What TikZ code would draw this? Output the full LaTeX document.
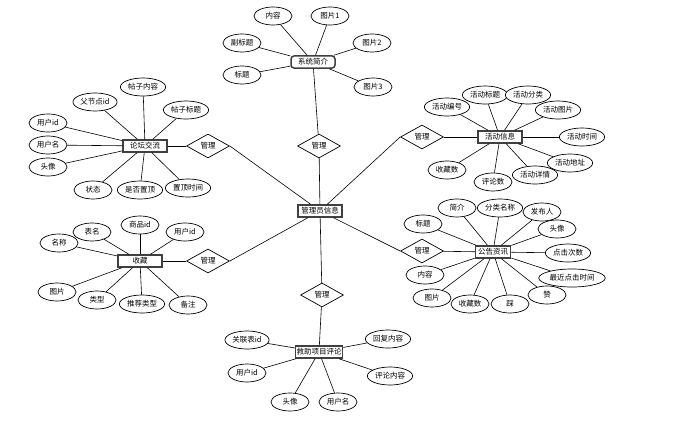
\documentclass[tikz,border=0pt]{standalone}
\usepackage{fontspec}
\setmainfont{Noto Sans CJK SC}
\usetikzlibrary{shapes.geometric}
\begin{document}
\begin{tikzpicture}[x=1pt,y=-1pt,
  attr/.style={ellipse,draw,line width=0.7pt,minimum width=38pt,minimum height=18pt,inner sep=1pt,fill=white,font=\fontsize{7.5}{8}\selectfont},
  ent/.style={rectangle,draw=black!75,line width=1.5pt,minimum width=44pt,minimum height=12pt,inner sep=1.5pt,fill=white,font=\fontsize{7.5}{8}\selectfont},
  rel/.style={diamond,draw,line width=0.7pt,minimum width=43pt,minimum height=24pt,inner sep=0pt,fill=white,font=\fontsize{7.5}{8}\selectfont},
  link/.style={line width=0.6pt}]
\useasboundingbox (0,0) rectangle (690,436);
\fill[white] (0,0) rectangle (690,436);

% entities
\node[ent,rounded corners=3pt] (xt) at (313,62) {系统简介};
\node[ent] (gly) at (320,211) {管理员信息};
\node[ent] (lt) at (145,146) {论坛交流};
\node[ent] (hd) at (500,137) {活动信息};
\node[ent] (sc) at (140,261) {收藏};
\node[ent,minimum width=35pt] (gg) at (493,252) {公告资讯};
\node[ent,inner xsep=1pt] (pl) at (319,352) {救助项目评论};

% relationships
\node[rel] (r1) at (319,146) {管理};
\node[rel] (r2) at (208,146) {管理};
\node[rel] (r3) at (422,137) {管理};
\node[rel] (r4) at (208,261) {管理};
\node[rel] (r5) at (422,251) {管理};
\node[rel] (r6) at (322,295) {管理};

% 系统简介 attributes
\node[attr] (x1) at (273,16) {内容};
\node[attr] (x2) at (330,16) {图片1};
\node[attr] (x3) at (242,43) {副标题};
\node[attr] (x4) at (242,75) {标题};
\node[attr] (x5) at (372,43) {图片2};
\node[attr] (x6) at (373,87) {图片3};

% 论坛交流 attributes
\node[attr] (l1) at (143,87) {帖子内容};
\node[attr] (l2) at (95,102) {父节点id};
\node[attr] (l3) at (186,110) {帖子标题};
\node[attr] (l4) at (48,123) {用户id};
\node[attr] (l5) at (48,145) {用户名};
\node[attr] (l6) at (48,167) {头像};
\node[attr] (l7) at (93,190) {状态};
\node[attr] (l8) at (140,190) {是否置顶};
\node[attr] (l9) at (188,188) {置顶时间};

% 活动信息 attributes
\node[attr] (h1) at (447,107) {活动编号};
\node[attr] (h2) at (485,95) {活动标题};
\node[attr] (h3) at (528,95) {活动分类};
\node[attr] (h4) at (558,110) {活动图片};
\node[attr] (h5) at (582,137) {活动时间};
\node[attr] (h6) at (570,163) {活动地址};
\node[attr] (h7) at (535,175) {活动详情};
\node[attr] (h8) at (493,182) {评论数};
\node[attr] (h9) at (447,170) {收藏数};

% 收藏 attributes
\node[attr] (s1) at (59,243) {名称};
\node[attr] (s2) at (92,232) {表名};
\node[attr] (s3) at (140,225) {商品id};
\node[attr] (s4) at (185,232) {用户id};
\node[attr] (s5) at (57,292) {图片};
\node[attr] (s6) at (97,300) {类型};
\node[attr] (s7) at (142,304) {推荐类型};
\node[attr] (s8) at (188,305) {备注};

% 公告资讯 attributes
\node[attr] (g1) at (423,224) {标题};
\node[attr] (g2) at (457,208) {简介};
\node[attr] (g3) at (500,208) {分类名称};
\node[attr] (g4) at (542,212) {发布人};
\node[attr] (g5) at (557,229) {头像};
\node[attr] (g6) at (568,253) {点击次数};
\node[attr] (g7) at (572,278) {最近点击时间};
\node[attr] (g8) at (547,295) {赞};
\node[attr] (g9) at (510,304) {踩};
\node[attr] (g10) at (470,304) {收藏数};
\node[attr] (g11) at (432,298) {图片};
\node[attr] (g12) at (425,275) {内容};

% 救助项目评论 attributes
\node[attr] (p1) at (247,340) {关联表id};
\node[attr] (p2) at (247,373) {用户id};
\node[attr] (p3) at (290,402) {头像};
\node[attr] (p4) at (338,402) {用户名};
\node[attr] (p5) at (388,339) {回复内容};
\node[attr] (p6) at (390,376) {评论内容};

% connectors
\draw[link] (gly) -- (r1) -- (xt);
\draw[link] (gly) -- (r2.east); \draw[link] (r2) -- (lt);
\draw[link] (gly) -- (r3.west); \draw[link] (r3) -- (hd);
\draw[link] (gly) -- (r4.east); \draw[link] (r4) -- (sc);
\draw[link] (gly) -- (r5.west); \draw[link] (r5) -- (gg);
\draw[link] (gly) -- (r6); \draw[link] (r6) -- (pl);

\foreach \a in {x1,x2,x3,x4,x5,x6} \draw[link] (xt) -- (\a);
\foreach \a in {l1,l2,l3,l4,l5,l6,l7,l8,l9} \draw[link] (lt) -- (\a);
\foreach \a in {h1,h2,h3,h4,h5,h6,h7,h8,h9} \draw[link] (hd) -- (\a);
\foreach \a in {s1,s2,s3,s4,s5,s6,s7,s8} \draw[link] (sc) -- (\a);
\foreach \a in {g1,g2,g3,g4,g5,g6,g7,g8,g9,g10,g11,g12} \draw[link] (gg) -- (\a);
\foreach \a in {p1,p2,p3,p4,p5,p6} \draw[link] (pl) -- (\a);
\end{tikzpicture}
\end{document}
